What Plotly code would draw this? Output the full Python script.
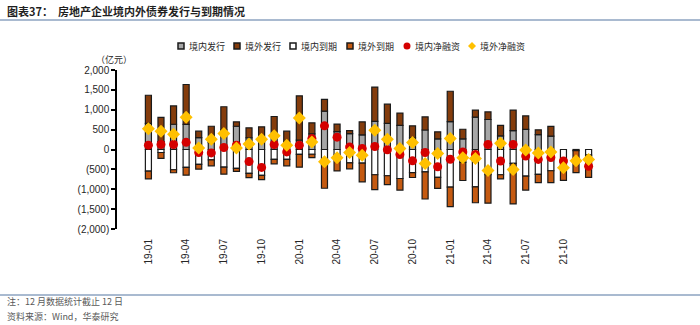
import plotly.graph_objects as go

# ---------------- data ----------------
months = ["19-01", "19-02", "19-03", "19-04", "19-05", "19-06", "19-07", "19-08", "19-09", "19-10", "19-11", "19-12",
          "20-01", "20-02", "20-03", "20-04", "20-05", "20-06", "20-07", "20-08", "20-09", "20-10", "20-11", "20-12",
          "21-01", "21-02", "21-03", "21-04", "21-05", "21-06", "21-07", "21-08", "21-09", "21-10", "21-11", "21-12"]
tick_labels = ["19-01", "19-04", "19-07", "19-10", "20-01", "20-04", "20-07", "20-10", "21-01", "21-04", "21-07", "21-10"]

dom_issue = [655, 200, 635, 630, 300, 175, 495, 585, 295, 200, 375, 190,
             235, 395, 965, 450, 400, 370, 710, 655, 605, 295, 490, 265,
             700, 265, 815, 755, 345, 475, 505, 375, 335, 0, 0, 0]
ext_issue = [710, 610, 460, 1005, 160, 410, 580, 110, 250, 370, 455, 270,
             1115, 275, 295, 190, 75, 325, 860, 485, 310, 300, 330, 180,
             765, 245, 175, 190, 260, 515, 340, 120, 245, 0, 0, 0]
dom_mature = [545, 75, 510, 450, 375, 260, 445, 475, 600, 650, 250, 250,
              125, 120, 370, 140, 335, 345, 635, 660, 730, 580, 565, 700,
              945, 325, 940, 630, 635, 350, 670, 625, 535, 310, 30, 140]
ext_mature = [195, 150, 75, 195, 120, 150, 175, 75, 110, 110, 110, 160,
              320, 85, 605, 400, 150, 470, 375, 225, 290, 125, 680, 280,
              490, 455, 400, 720, 105, 1020, 350, 210, 300, 465, 550, 560]
dom_net = [110, 125, 125, 180, -75, -85, 50, 110, -305, -450, 125, -60,
           110, 275, 595, 310, 65, 25, 75, -5, -125, -285, -75, -435,
           -245, -60, -125, 125, -290, 125, -165, -250, -200, -290, -280, -420]
ext_net = [520, 460, 385, 810, 40, 260, 400, 35, 140, 260, 345, 110,
           795, 190, -310, -210, -75, -145, 485, 260, 25, 175, -350, -100,
           275, -210, -225, -530, 155, -505, -10, -85, -60, -460, -280, -250]

bar_series = [
    ("境内发行", dom_issue, 1, "#a6a6a6"),
    ("境外发行", ext_issue, 1, "#843c0c"),
    ("境内到期", dom_mature, -1, "#ffffff"),
    ("境外到期", ext_mature, -1, "#c55a11"),
]
net_series = [
    ("境内净融资", dom_net, "circle", "#d40000", 9),
    ("境外净融资", ext_net, "diamond", "#ffc000", 10),
]

# ---------------- geometry ----------------
W, H = 700, 325
L, R, T, B = 117, 80, 70, 96
PW, PH = W - L - R, H - T - B


def px(x):
    return (x - L) / PW


def py(y):
    return (T + PH - y) / PH


CJK = "Noto Sans CJK SC"
fig = go.Figure()

for name, vals, sign, color in bar_series:
    fig.add_trace(go.Bar(
        x=months, y=[sign * v for v in vals], name=name,
        marker=dict(color=color, line=dict(color="#1a1a1a", width=1.2)),
        showlegend=False,
    ))

for name, vals, sym, color, size in net_series:
    fig.add_trace(go.Scatter(
        x=months, y=vals, name=name, mode="markers",
        marker=dict(symbol=sym, color=color, size=size, line=dict(width=0)),
        showlegend=False,
    ))

yt = [-2000, -1500, -1000, -500, 0, 500, 1000, 1500, 2000]
yt_text = [f"({abs(v):,})" if v < 0 else f"{v:,}" for v in yt]

fig.update_layout(
    width=W, height=H,
    margin=dict(l=L, r=R, t=T, b=B, pad=0),
    paper_bgcolor="white", plot_bgcolor="white",
    barmode="relative", bargap=0.52,
    font=dict(family="Liberation Sans, Arial", size=10, color="#262626"),
    xaxis=dict(
        type="category", tickmode="array", tickvals=tick_labels, ticktext=tick_labels,
        tickangle=-90, showline=False, showgrid=False, zeroline=False,
        ticks="outside", ticklen=5, tickcolor="rgba(0,0,0,0)",
        tickfont=dict(size=10, color="#262626"),
    ),
    xaxis2=dict(
        overlaying="x", anchor="free", position=0.5, range=[-0.5, len(months) - 0.5],
        showline=True, linecolor="#000000", linewidth=1.5, showgrid=False, zeroline=False,
        ticks="outside", tick0=-0.5, dtick=0.5, ticklen=3, tickwidth=1, tickcolor="#000000",
        showticklabels=False,
    ),
    yaxis=dict(
        range=[-2000, 2000], tickmode="array", tickvals=yt, ticktext=yt_text,
        showline=True, linecolor="#000000", linewidth=1.5, showgrid=False, zeroline=False,
        ticks="outside", ticklen=4, tickwidth=1.5, tickcolor="#000000",
        tickfont=dict(size=10, color="#262626"),
    ),
)

annotations = []
shapes = []

# title and rules
annotations.append(dict(text="<b>图表37：  房地产企业境内外债券发行与到期情况</b>", x=px(5), y=py(11),
                        xref="paper", yref="paper", xanchor="left", yanchor="middle", showarrow=False,
                        font=dict(family=CJK, size=11, color="#1f1f1f")))
shapes.append(dict(type="line", xref="paper", yref="paper", x0=px(0), x1=px(700), y0=py(20), y1=py(20),
                   line=dict(color="#8da3c0", width=1.5)))
shapes.append(dict(type="line", xref="paper", yref="paper", x0=px(0), x1=px(700), y0=py(295), y1=py(295),
                   line=dict(color="#8da3c0", width=1.5)))
annotations.append(dict(text="注：12 月数据统计截止 12 日", x=px(5), y=py(301), xref="paper", yref="paper",
                        xanchor="left", yanchor="middle", showarrow=False,
                        font=dict(family=CJK, size=9, color="#595959")))
annotations.append(dict(text="资料来源：Wind，华泰研究", x=px(5), y=py(316), xref="paper", yref="paper",
                        xanchor="left", yanchor="middle", showarrow=False,
                        font=dict(family=CJK, size=9, color="#595959")))
# unit
annotations.append(dict(text="（亿元）", x=px(114), y=py(59), xref="paper", yref="paper",
                        xanchor="center", yanchor="middle", showarrow=False,
                        font=dict(family=CJK, size=9, color="#262626")))

# manual legend
legend_items = [(n, "square", c) for n, _, _, c in bar_series] + [(n, s, c) for n, _, s, c, _ in net_series]
centers = [181, 237, 293, 350, 407, 472]
ly = 46
for (name, kind, color), cx in zip(legend_items, centers):
    if kind == "square":
        shapes.append(dict(type="rect", xref="paper", yref="paper",
                           x0=px(cx - 3), x1=px(cx + 3), y0=py(ly + 3), y1=py(ly - 3),
                           fillcolor=color, line=dict(color="#1a1a1a", width=1.5)))
    elif kind == "circle":
        shapes.append(dict(type="circle", xref="paper", yref="paper",
                           x0=px(cx - 3.5), x1=px(cx + 3.5), y0=py(ly + 3.5), y1=py(ly - 3.5),
                           fillcolor=color, line=dict(width=0)))
    else:
        d = 4
        path = (f"M {px(cx)},{py(ly - d)} L {px(cx + d)},{py(ly)} "
                f"L {px(cx)},{py(ly + d)} L {px(cx - d)},{py(ly)} Z")
        shapes.append(dict(type="path", xref="paper", yref="paper", path=path,
                           fillcolor=color, line=dict(width=0)))
    annotations.append(dict(text=name, x=px(cx + 6), y=py(ly), xref="paper", yref="paper",
                            xanchor="left", yanchor="middle", showarrow=False,
                            font=dict(family=CJK, size=9, color="#262626")))

fig.update_layout(annotations=annotations, shapes=shapes)
fig.write_html("out.html")
